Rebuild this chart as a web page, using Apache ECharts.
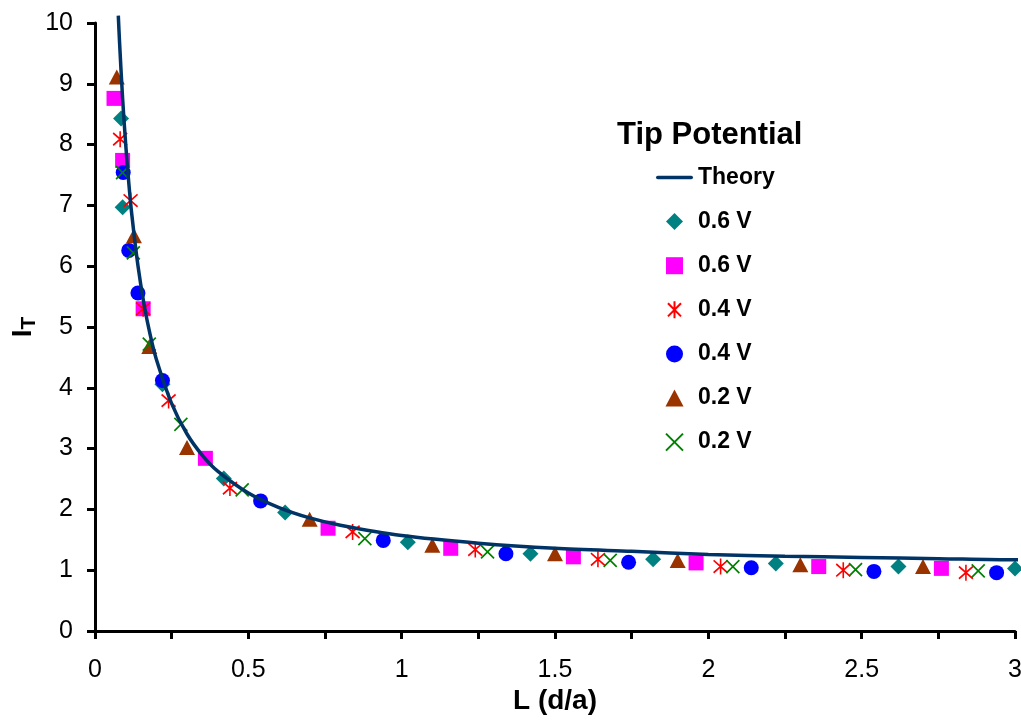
<!DOCTYPE html>
<html>
<head>
<meta charset="utf-8">
<script src="https://cdn.jsdelivr.net/npm/echarts@6/dist/echarts.min.js"></script>
<style>
  html, body { margin: 0; padding: 0; background: #fff; }
  #chart { width: 1021px; height: 721px; }
</style>
</head>
<body>
<div id="chart"></div>
<script>
// ---- data ----
const xTicks = [0, 0.5, 1, 1.5, 2, 2.5, 3];
const yTicks = [0, 1, 2, 3, 4, 5, 6, 7, 8, 9, 10];

const theoryL = [0.076, 0.08, 0.09, 0.10, 0.11, 0.12, 0.14, 0.16, 0.18, 0.20, 0.25, 0.30, 0.35, 0.40, 0.50, 0.60, 0.70, 0.80, 1.00, 1.25, 1.50, 1.75, 2.00, 2.25, 2.50, 2.75, 3.00, 3.02];
const theoryI = [10.12, 9.69, 8.76, 8.01, 7.38, 6.85, 6.01, 5.37, 4.87, 4.47, 3.74, 3.24, 2.89, 2.63, 2.27, 2.03, 1.86, 1.74, 1.57, 1.445, 1.36, 1.31, 1.26, 1.23, 1.21, 1.19, 1.17, 1.17];

const diamond06 = [[0.085, 8.43], [0.09, 6.97], [0.22, 4.06], [0.42, 2.51], [0.62, 1.95], [1.02, 1.46], [1.42, 1.27], [1.82, 1.18], [2.22, 1.11], [2.62, 1.06], [3.0, 1.03]];
const square06  = [[0.062, 8.76], [0.09, 7.74], [0.157, 5.30], [0.36, 2.84], [0.76, 1.69], [1.16, 1.36], [1.56, 1.22], [1.96, 1.12], [2.36, 1.06], [2.76, 1.03]];
const star04    = [[0.082, 8.09], [0.116, 7.08], [0.157, 5.30], [0.24, 3.79], [0.44, 2.35], [0.84, 1.63], [1.24, 1.34], [1.64, 1.18], [2.04, 1.06], [2.44, 1.00], [2.84, 0.96]];
const circle04  = [[0.092, 7.54], [0.11, 6.26], [0.14, 5.56], [0.22, 4.12], [0.54, 2.14], [0.94, 1.49], [1.34, 1.27], [1.74, 1.13], [2.14, 1.04], [2.54, 0.98], [2.94, 0.96]];
const tri02     = [[0.071, 9.11], [0.127, 6.50], [0.177, 4.68], [0.30, 3.02], [0.70, 1.84], [1.10, 1.41], [1.50, 1.27], [1.90, 1.16], [2.30, 1.09], [2.70, 1.06]];
const cross02   = [[0.09, 7.54], [0.125, 6.22], [0.177, 4.72], [0.28, 3.40], [0.48, 2.32], [0.88, 1.52], [1.28, 1.30], [1.68, 1.16], [2.08, 1.06], [2.48, 1.01], [2.88, 0.99]];

const seriesIds = ['theory', 'd06', 's06', 'a04', 'c04', 't02', 'x02'];
const legendLabels = ['Theory', '0.6 V', '0.6 V', '0.4 V', '0.4 V', '0.2 V', '0.2 V'];
const legendTitle = 'Tip Potential';
const xName = 'L (d/a)';

// ---- chart ----
const FONT = "'Liberation Sans', Arial, Helvetica, sans-serif";
const labelMap = {};
seriesIds.forEach((id, i) => { labelMap[id] = legendLabels[i]; });

const theoryData = theoryL.map((l, i) => [l, theoryI[i]]);

const SYM = {
  line: 'path://M1.75,0L35.25,0A1.75,1.75,0,0,1,35.25,3.5L1.75,3.5A1.75,1.75,0,0,1,1.75,0Z',
  diamond: 'path://M5,0L10,5L5,10L0,5Z',
  square: 'path://M0,0L10,0L10,10L0,10Z',
  triangle: 'path://M5,0L10,9.4L0,9.4Z',
  star: 'path://M0,1.5L10,11.5M10,1.5L0,11.5M5,0L5,13',
  cross: 'path://M0,0L10,10M10,0L0,10'
};
const legendIcons = [SYM.line, SYM.diamond, SYM.square, SYM.star, 'circle', SYM.triangle, SYM.cross];

function scatter(id, data, symbol, size, color, stroke) {
  const s = {
    name: id, type: 'scatter', data: data, symbol: symbol, symbolSize: size,
    itemStyle: { color: color, opacity: 1 },
    emphasis: { disabled: true }, silent: true
  };
  if (stroke) {
    s.itemStyle = { color: 'rgba(0,0,0,0)', borderColor: color, borderWidth: 1.7, opacity: 1 };
  }
  return s;
}

const chart = echarts.init(document.getElementById('chart'), null, { renderer: 'canvas' });
chart.setOption({
  animation: false,
  backgroundColor: '#ffffff',
  title: {
    text: legendTitle, left: 617, top: 120, padding: 0,
    textStyle: { fontFamily: FONT, fontSize: 31, fontWeight: 'bold', color: '#000', lineHeight: 31 }
  },
  legend: {
    orient: 'vertical', left: 656, top: 166, padding: 0,
    itemWidth: 37, itemHeight: 17, itemGap: 21.1,
    symbolKeepAspect: true,
    selectedMode: false,
    textStyle: { fontFamily: FONT, fontSize: 23, fontWeight: 'bold', color: '#000', lineHeight: 23 },
    formatter: function (n) { return labelMap[n]; },
    data: seriesIds.map((id, i) => ({ name: id, icon: legendIcons[i] }))
  },
  grid: { left: 95, right: 6, top: 23, bottom: 90, containLabel: false, outerBoundsMode: 'none' },
  xAxis: {
    type: 'value', min: xTicks[0], max: xTicks[xTicks.length - 1], interval: 0.5,
    name: xName, nameLocation: 'middle', nameGap: 56, nameMoveOverlap: false,
    nameTextStyle: { fontFamily: FONT, fontSize: 28, fontWeight: 'bold', color: '#000', lineHeight: 28 },
    axisLine: { show: true, onZero: false, lineStyle: { color: '#000', width: 3 } },
    axisTick: { show: true, inside: false, length: 8, lineStyle: { color: '#000', width: 3 } },
    minorTick: { show: true, splitNumber: 2, length: 8, lineStyle: { color: '#000', width: 3 } },
    splitLine: { show: false },
    axisLabel: { fontFamily: FONT, fontSize: 25, color: '#000', margin: 27,
      formatter: function (v) { return String(v); } }
  },
  yAxis: {
    type: 'value', min: yTicks[0], max: yTicks[yTicks.length - 1], interval: 1,
    name: '{i|I}{t|T}', nameLocation: 'middle', nameGap: 58, nameRotate: 90, nameMoveOverlap: false,
    nameTextStyle: {
      color: '#000',
      rich: {
        i: { fontFamily: FONT, fontSize: 28, fontWeight: 'bold', color: '#000', lineHeight: 28, verticalAlign: 'top' },
        t: { fontFamily: FONT, fontSize: 21, fontWeight: 'bold', color: '#000', lineHeight: 28, verticalAlign: 'top', padding: [10, 0, 0, 0] }
      }
    },
    axisLine: { show: true, onZero: false, lineStyle: { color: '#000', width: 3 } },
    axisTick: { show: true, inside: false, length: 8, lineStyle: { color: '#000', width: 3 } },
    splitLine: { show: false },
    axisLabel: { fontFamily: FONT, fontSize: 25, color: '#000', margin: 22 }
  },
  series: [
    {
      name: 'theory', type: 'line', data: theoryData, smooth: 0.3, showSymbol: false, symbol: 'none',
      clip: false, silent: true,
      lineStyle: { color: '#003366', width: 3.5 },
      itemStyle: { color: '#003366' }
    },
    scatter('d06', diamond06, 'diamond', [16, 16], '#008080'),
    scatter('s06', square06, 'rect', 15, '#FF00FF'),
    scatter('a04', star04, SYM.star, [14, 16], '#FF0000', true),
    scatter('c04', circle04, 'circle', 15, '#0000FF'),
    scatter('t02', tri02, 'triangle', [16, 15], '#993300'),
    scatter('x02', cross02, SYM.cross, [13, 13], '#008000', true)
  ]
});
</script>
</body>
</html>
